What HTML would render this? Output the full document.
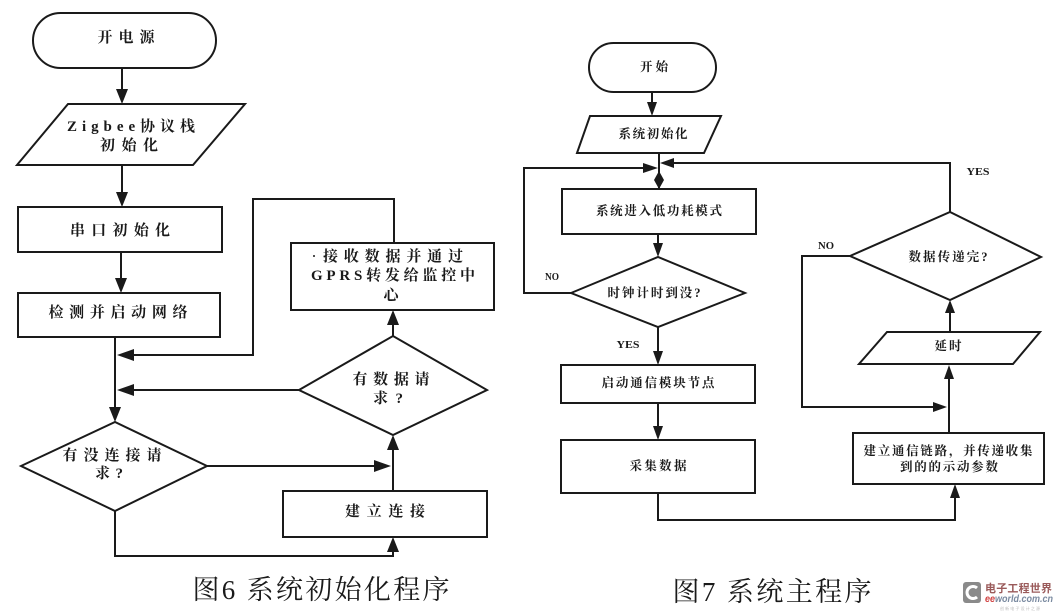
<!DOCTYPE html>
<html>
<head>
<meta charset="utf-8">
<style>
html,body{margin:0;padding:0;background:#fff;}
svg{display:block;}
.t{font-family:"Liberation Serif","Noto Serif CJK SC",serif;font-weight:bold;fill:#1a1a1a;}
.s{font-family:"Liberation Serif","Noto Serif CJK SC",serif;font-weight:bold;fill:#1a1a1a;}
.c{font-family:"Liberation Serif","Noto Serif CJK SC",serif;fill:#1a1a1a;}
</style>
</head>
<body>
<svg width="1059" height="616" viewBox="0 0 1059 616" xmlns="http://www.w3.org/2000/svg">
<rect width="1059" height="616" fill="#fff"/>
<g stroke="#1a1a1a" stroke-width="2" fill="none">
  <!-- LEFT DIAGRAM -->
  <rect x="33" y="13" width="183" height="55" rx="27.5" ry="27.5"/>
  <line x1="122" y1="68" x2="122" y2="92"/>
  <polygon points="68,104 245,104 193,165 17,165"/>
  <line x1="122" y1="165" x2="122" y2="195"/>
  <rect x="18" y="207" width="204" height="45"/>
  <line x1="121" y1="252" x2="121" y2="281"/>
  <rect x="18" y="293" width="202" height="44"/>
  <line x1="115" y1="337" x2="115" y2="410"/>
  <polyline points="130,355 253,355 253,199 394,199 394,243"/>
  <rect x="291" y="243" width="203" height="67"/>
  <polygon points="299,390 393,336 487,390 393,435"/>
  <line x1="393" y1="336" x2="393" y2="322"/>
  <line x1="299" y1="390" x2="130" y2="390"/>
  <polygon points="21,466 115,422 207,466 115,511"/>
  <line x1="207" y1="466" x2="378" y2="466"/>
  <line x1="393" y1="491" x2="393" y2="447"/>
  <rect x="283" y="491" width="204" height="46"/>
  <polyline points="115,511 115,556 393,556 393,549"/>

  <!-- RIGHT DIAGRAM -->
  <rect x="589" y="43" width="127" height="49" rx="24.5" ry="24.5"/>
  <line x1="652" y1="92" x2="652" y2="104"/>
  <polygon points="590,116 721,116 704,153 577,153"/>
  <line x1="659" y1="153" x2="659" y2="189"/>
  <polyline points="646,168 524,168 524,293 571,293"/>
  <polyline points="672,163 950,163 950,212"/>
  <rect x="562" y="189" width="194" height="45"/>
  <line x1="658" y1="234" x2="658" y2="245"/>
  <polygon points="571,293 658,257 745,293 658,327"/>
  <line x1="658" y1="327" x2="658" y2="353"/>
  <rect x="561" y="365" width="194" height="38"/>
  <line x1="658" y1="403" x2="658" y2="428"/>
  <rect x="561" y="440" width="194" height="53"/>
  <polyline points="658,493 658,520 955,520 955,496"/>
  <rect x="853" y="433" width="191" height="51"/>
  <line x1="949" y1="433" x2="949" y2="377"/>
  <polygon points="887,332 1040,332 1013,364 859,364"/>
  <line x1="950" y1="332" x2="950" y2="310"/>
  <polygon points="850,256 950,212 1041,257 950,300"/>
  <polyline points="850,256 802,256 802,407 935,407"/>
</g>

<!-- arrowheads -->
<g fill="#1a1a1a" stroke="none">
  <polygon points="116,89 128,89 122,104"/>
  <polygon points="116,192 128,192 122,207"/>
  <polygon points="115,278 127,278 121,293"/>
  <polygon points="109,407 121,407 115,422"/>
  <polygon points="117,355 134,349 134,361"/>
  <polygon points="117,390 134,384 134,396"/>
  <polygon points="393,310 387,325 399,325"/>
  <polygon points="393,435 387,450 399,450"/>
  <polygon points="391,466 374,460 374,472"/>
  <polygon points="393,537 387,552 399,552"/>

  <polygon points="647,102 657,102 652,116"/>
  <polygon points="658,168 643,163 643,173"/>
  <polygon points="660,163 674,158 674,168"/>
  <polygon points="659,171 664,180 659,189 654,180"/>
  <polygon points="653,243 663,243 658,257"/>
  <polygon points="653,351 663,351 658,365"/>
  <polygon points="653,426 663,426 658,440"/>
  <polygon points="955,484 950,498 960,498"/>
  <polygon points="949,365 944,379 954,379"/>
  <polygon points="947,407 933,402 933,412"/>
  <polygon points="950,300 945,313 955,313"/>
  <circle cx="314" cy="256" r="1"/>
</g>

<!-- LEFT TEXT -->
<g class="t" font-size="15" text-anchor="middle" dominant-baseline="central">
  <text x="126" y="38" textLength="57" lengthAdjust="spacing">开电源</text>
  <text x="131" y="127" textLength="128" lengthAdjust="spacing">Zigbee协议栈</text>
  <text x="129" y="146" textLength="58" lengthAdjust="spacing">初始化</text>
  <text x="120" y="231" textLength="100" lengthAdjust="spacing">串口初始化</text>
  <text x="118" y="313" textLength="139" lengthAdjust="spacing">检测并启动网络</text>
  <text x="393" y="257" textLength="140" lengthAdjust="spacing">接收数据并通过</text>
  <text x="393" y="276" textLength="164" lengthAdjust="spacing">GPRS转发给监控中</text>
  <text x="391" y="296">心</text>
  <text x="391" y="380" textLength="77" lengthAdjust="spacing">有数据请</text>
  <text x="388" y="399" textLength="30" lengthAdjust="spacing">求?</text>
  <text x="112" y="456" textLength="99" lengthAdjust="spacing">有没连接请</text>
  <text x="109" y="474" textLength="28" lengthAdjust="spacing">求?</text>
  <text x="385" y="512" textLength="80" lengthAdjust="spacing">建立连接</text>
</g>

<!-- RIGHT TEXT -->
<g class="s" font-size="12.5" text-anchor="middle" dominant-baseline="central">
  <text x="654" y="67" textLength="28" lengthAdjust="spacing">开始</text>
  <text x="653" y="134" textLength="69" lengthAdjust="spacing">系统初始化</text>
  <text x="659" y="211" textLength="126" lengthAdjust="spacing">系统进入低功耗模式</text>
  <text x="654" y="293" textLength="93" lengthAdjust="spacing">时钟计时到没?</text>
  <text x="948" y="257" textLength="79" lengthAdjust="spacing">数据传递完?</text>
  <text x="658" y="383" textLength="113" lengthAdjust="spacing">启动通信模块节点</text>
  <text x="658" y="466" textLength="57" lengthAdjust="spacing">采集数据</text>
  <text x="948" y="451" textLength="169" lengthAdjust="spacing">建立通信链路，并传递收集</text>
  <text x="949" y="467" textLength="98" lengthAdjust="spacing">到的的示动参数</text>
  <text x="948" y="346" textLength="27" lengthAdjust="spacing">延时</text>
</g>
<g class="s" font-size="11" text-anchor="middle" dominant-baseline="central">
  <text x="552" y="277" textLength="14" lengthAdjust="spacingAndGlyphs">NO</text>
  <text x="978" y="172" textLength="23" lengthAdjust="spacingAndGlyphs">YES</text>
  <text x="826" y="246" textLength="16" lengthAdjust="spacingAndGlyphs">NO</text>
  <text x="628" y="345" textLength="23" lengthAdjust="spacingAndGlyphs">YES</text>
</g>

<!-- CAPTIONS -->
<g class="c" font-size="27" text-anchor="middle" dominant-baseline="central">
  <text x="321" y="590" textLength="257" lengthAdjust="spacing">图6 系统初始化程序</text>
  <text x="772" y="592" textLength="199" lengthAdjust="spacing">图7 系统主程序</text>
</g>

<!-- LOGO -->
<g>
  <rect x="963" y="582" width="18" height="21" rx="3" fill="#8a8a8a"/>
  <path d="M977,588 A6,6 0 1 0 977,597" stroke="#fff" stroke-width="3" fill="none"/>
  <text x="985" y="592" font-family="'Noto Sans CJK SC',sans-serif" font-size="11" font-weight="bold" fill="#9a5a5a" textLength="67" lengthAdjust="spacing">电子工程世界</text>
  <text x="985" y="602" font-family="'Liberation Sans',sans-serif" font-size="10" font-style="italic" font-weight="bold" fill="#7a8aa0" textLength="68" lengthAdjust="spacingAndGlyphs"><tspan fill="#d04040">ee</tspan>world.com.cn</text>
  <text x="1000" y="610" font-family="'Noto Sans CJK SC',sans-serif" font-size="4" fill="#bbb" textLength="40" lengthAdjust="spacing">创新电子设计之源</text>
</g>
</svg>
</body>
</html>
